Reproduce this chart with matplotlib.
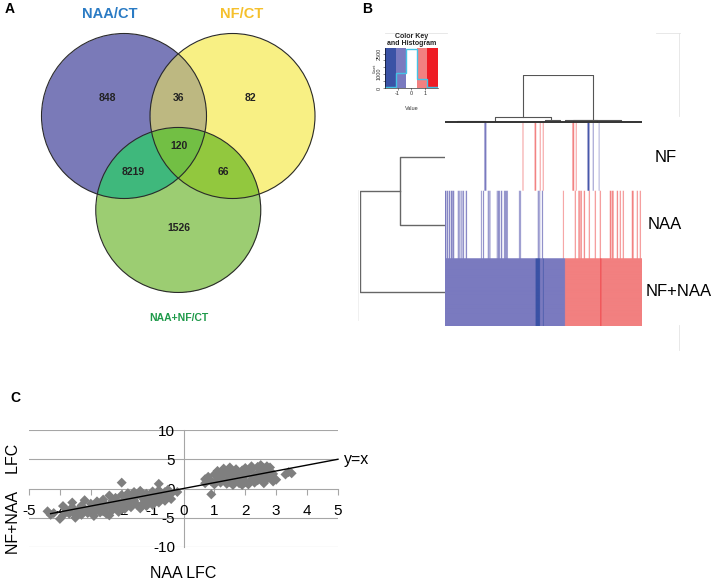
import numpy as np
import matplotlib
matplotlib.use("Agg")
import matplotlib.pyplot as plt
from matplotlib.colors import ListedColormap, BoundaryNorm, to_rgb
from matplotlib.patches import Circle
from matplotlib.lines import Line2D

plt.rcParams['font.family'] = ['Liberation Sans', 'DejaVu Sans']
plt.rcParams['axes.unicode_minus'] = False

W, H = 714, 581

# ---------------- data ----------------
# Venn (A)
venn_sets = ["NAA/CT", "NF/CT", "NAA+NF/CT"]
venn_set_colors = ["#2b7bc4", "#f5c02c", "#1f9a4a"]
venn_regions = ["100", "110", "010", "111", "101", "011", "001"]
venn_counts = [848, 36, 82, 120, 8219, 66, 1526]
venn_region_colors = ["#7a7ab9", "#bdb981", "#f8f084", "#72bf44",
                      "#3fb97c", "#92c83e", "#9ccd72"]

# heatmap (B): stripes as (first gene, number of genes, log fold change)
heat_rows = ["NF", "NAA", "NF+NAA"]
n_genes = 985
nf_stripes = [(197, 10, -0.75), (388, 4, 0.75), (448, 8, 0.75), (474, 4, 0.75),
              (489, 4, 0.75), (637, 9, 0.75), (654, 4, 0.75), (712, 11, -0.75),
              (715, 5, -1.5), (739, 4, -0.75), (769, 3, -0.75)]
naa_stripes = [(0, 7, -0.75), (10, 6, -0.75), (20, 6, -0.75), (30, 8, -0.75),
               (40, 6, -0.75), (64, 5, -0.75), (72, 5, -0.75), (82, 5, -0.75),
               (90, 5, -0.75), (104, 6, -0.75), (180, 4, -0.75), (190, 5, -0.75),
               (214, 5, -0.75), (222, 5, -0.75), (259, 4, -0.75), (265, 5, -0.75),
               (271, 4, -0.75), (280, 6, -0.75), (295, 4, -0.75), (300, 4, -0.75),
               (305, 4, -0.75), (310, 4, -0.75), (370, 4, -0.75), (376, 4, -0.75),
               (464, 5, -0.75), (472, 4, -0.75), (485, 5, -0.75),
               (590, 4, 0.75), (649, 5, 0.75), (667, 7, 0.75), (677, 7, 0.75),
               (694, 6, 0.75), (719, 5, 0.75), (749, 5, 0.75), (774, 5, 0.75),
               (824, 8, 0.75), (835, 8, 0.75), (859, 6, 0.75), (874, 5, 0.75),
               (889, 5, 0.75), (934, 9, 0.75), (959, 5, 0.75), (974, 5, 0.75)]
nfnaa_stripes = [(0, 600, -0.75), (453, 22, -1.5), (490, 3, -1.5),
                 (600, 385, 0.75), (778, 3, 1.5)]

key_bounds = [-1.9, -1.14, -0.38, 0.38, 1.14, 1.9]
key_colors = ["#3a52a5", "#7a7abf", "#ffffff", "#f28080", "#ee1c24"]
key_counts = [50, 1100, 2800, 650, 50]

# dendrograms: (left pos, right pos, left height, right height, top height)
col_links = [(390, 740, 0.10, 0.04, 1.0), (250, 530, 0.02, 0.03, 0.10),
             (500, 575, 0.01, 0.01, 0.035), (600, 880, 0.01, 0.01, 0.04),
             (60, 200, 0.0, 0.0, 0.02), (640, 760, 0.0, 0.0, 0.025)]
row_links = [(0.5, 1.5, 0.0, 0.0, 0.53), (1.0, 2.5, 0.53, 0.0, 1.0)]

# scatter (C)
naa_lfc = [-4.4, -4.2, -4.0, -3.9, -3.8, -3.7, -3.6, -3.6, -3.5, -3.4,
           -3.3, -3.3, -3.2, -3.1, -3.0, -3.0, -2.9, -2.9, -2.8, -2.8,
           -2.7, -2.7, -2.6, -2.6, -2.5, -2.5, -2.4, -2.4, -2.3, -2.3,
           -2.2, -2.2, -2.1, -2.1, -2.0, -2.0, -2.0, -1.9, -1.9, -1.8,
           -1.8, -1.7, -1.7, -1.6, -1.6, -1.5, -1.5, -1.4, -1.4, -1.3,
           -1.3, -1.2, -1.2, -1.1, -1.1, -1.0, -1.0, -0.9, -0.9, -0.8,
           -0.8, -0.8, -0.7, -0.7, -0.6, -0.6, -0.5, -0.5, -0.4, -0.4,
           -0.2, -4.3, -3.9, -3.5, -3.2, -2.6, -2.4,
           -3.7, -3.4, -3.1, -2.8, -2.5, -2.2, -1.9, -1.6, -1.3, -1.0,
           0.7, 0.7, 0.8, 0.9, 0.9, 1.0, 1.0, 1.1, 1.1, 1.2,
           1.2, 1.3, 1.3, 1.4, 1.4, 1.5, 1.5, 1.5, 1.6, 1.6,
           1.7, 1.7, 1.7, 1.8, 1.8, 1.9, 1.9, 2.0, 2.0, 2.0,
           2.1, 2.1, 2.2, 2.2, 2.3, 2.3, 2.4, 2.4, 2.4, 2.5,
           2.5, 2.5, 2.6, 2.6, 2.7, 2.7, 2.7, 2.8, 2.8, 2.8,
           2.9, 2.9, 3.0, 2.6, 2.2, 1.9, 1.3, 3.3, 3.4, 3.5, 0.8]
nfnaa_lfc = [-3.9, -4.2, -5.2, -4.6, -3.6, -4.3, -2.4, -3.2, -5.0, -3.9,
             -4.5, -2.9, -3.5, -4.2, -2.6, -3.3, -4.7, -3.9, -2.2, -3.0,
             -4.1, -3.5, -2.6, -1.9, -3.2, -4.3, -1.2, -2.8, -3.7, -2.1,
             -1.6, -3.1, -2.4, -4.0, 1.0, -1.1, -2.9, -3.5, -1.9, -0.8,
             -2.5, -3.2, -1.4, -2.1, -0.6, -2.8, -1.2, -0.4, -3.4, -1.8,
             -2.5, -0.9, -3.0, -1.5, -2.2, -0.5, -2.8, -1.2, -1.9, 0.8,
             -0.3, -2.4, -1.0, -1.7, -0.6, -2.1, -1.3, -0.2, -1.8, -0.9,
             -0.6, -4.5, -3.0, -4.4, -2.0, -3.9, -4.6,
             -3.9, -3.6, -3.8, -3.4, -2.9, -2.7, -2.4, -1.5, -1.1, -1.8,
             1.6, 0.9, 2.0, 1.2, -1.0, 2.4, 0.7, 1.6, 3.0, 2.1,
             1.0, 3.4, 1.5, 2.6, 0.8, 3.6, 1.9, 1.1, 2.9, 0.6,
             3.3, 2.2, 1.4, 0.9, 2.7, 3.1, 1.7, 2.3, 1.1, 3.5,
             2.8, 0.7, 1.6, 3.2, 2.1, 1.0, 3.7, 2.6, 1.4, 4.0,
             3.0, 1.9, 0.9, 2.4, 3.8, 3.2, 1.6, 2.8, 2.0, 3.6,
             1.2, 2.5, 1.5, 3.5, 3.8, 0.6, 2.7, 2.4, 2.8, 2.6, 1.4]


def px_axes(fig, x0, y0, x1, y1):
    return fig.add_axes([x0 / W, 1 - y1 / H, (x1 - x0) / W, (y1 - y0) / H])


def ftext(fig, x, y, s, **kw):
    fig.text(x / W, 1 - y / H, s, **kw)


def fline(fig, xs, ys, **kw):
    fig.add_artist(Line2D([x / W for x in xs], [1 - y / H for y in ys],
                          transform=fig.transFigure, **kw))


fig = plt.figure(figsize=(W / 100, H / 100), dpi=100)

# ---------------- A: Venn ----------------
ax_a = px_axes(fig, 0, 0, 360, 340)
ax_a.set_xlim(0, 360)
ax_a.set_ylim(340, 0)
ax_a.axis("off")

r = 82.5
mid_x, top_y, d = 178.25, 116, 108.5
centers = [(mid_x - d / 2, top_y), (mid_x + d / 2, top_y),
           (mid_x, top_y + d * np.sqrt(3) / 2)]
gx, gy = np.meshgrid(np.arange(0, 360, 0.5), np.arange(0, 340, 0.5))
inside = [(gx - cx) ** 2 + (gy - cy) ** 2 <= r ** 2 for cx, cy in centers]
img = np.ones(gx.shape + (3,))
for code, col in zip(venn_regions, venn_region_colors):
    m = np.ones(gx.shape, bool)
    for k, ch in enumerate(code):
        m &= inside[k] if ch == "1" else ~inside[k]
    img[m] = to_rgb(col)
ax_a.imshow(img, extent=(0, 360, 340, 0), interpolation="antialiased")
for cx, cy in centers:
    ax_a.add_patch(Circle((cx, cy), r, fill=False, ec="#2a2a2a", lw=0.8))

count_pos = [(107, 98), (179, 98), (250, 98), (179, 146), (133, 172),
             (223, 172), (179, 228)]
for (x, y), n in zip(count_pos, venn_counts):
    ax_a.text(x, y, str(n), ha="center", va="center", fontsize=7.5,
              fontweight="bold", color="#222222")
set_pos = [(110, 14, 10.5), (242, 14, 10.5), (179, 318, 7.5)]
for (x, y, fs), name, col in zip(set_pos, venn_sets, venn_set_colors):
    ax_a.text(x, y, name, ha="center", va="center", fontsize=fs,
              fontweight="bold", color=col)

# ---------------- B: heatmap ----------------
cmap = ListedColormap(key_colors)
norm = BoundaryNorm(key_bounds, cmap.N)

heat = np.zeros((3, n_genes))
for row, stripes in enumerate([nf_stripes, naa_stripes, nfnaa_stripes]):
    for start, n, v in stripes:
        heat[row, start:start + n] = v

ax_h = px_axes(fig, 445, 123, 642, 326)
ax_h.imshow(np.repeat(heat, 68, axis=0), aspect="auto", cmap=cmap, norm=norm,
            extent=(0, n_genes, 3, 0), interpolation="antialiased",
            interpolation_stage="rgba")
ax_h.axis("off")
label_x = [655, 648, 646]
for i, (name, lx) in enumerate(zip(heat_rows, label_x)):
    ftext(fig, lx, 157 + i * 67.5, name, ha="left", va="center", fontsize=12)

ax_cd = px_axes(fig, 445, 75, 642, 123)
for xl, xr, hl, hr, ht in col_links:
    ax_cd.plot([xl, xl, xr, xr], [hl, ht, ht, hr], color="#555555", lw=0.8)
ax_cd.plot([0, n_genes], [0.0, 0.0], color="#333333", lw=1.4)
ax_cd.plot([0, n_genes], [-0.02, -0.02], color="#999999", lw=0.6)
ax_cd.set_xlim(0, n_genes)
ax_cd.set_ylim(-0.03, 1.0)
ax_cd.axis("off")

ax_rd = px_axes(fig, 360, 123, 445, 326)
for yl, yr, hl, hr, ht in row_links:
    ax_rd.plot([hl, ht, ht, hr], [yl, yl, yr, yr], color="#666666", lw=1.0)
ax_rd.set_xlim(1.0, 0)
ax_rd.set_ylim(3, 0)
ax_rd.axis("off")

# colour key
ax_k = px_axes(fig, 385, 48, 438, 88)
mids = [(a + b) / 2 for a, b in zip(key_bounds[:-1], key_bounds[1:])]
ax_k.imshow([mids], aspect="auto", cmap=cmap, norm=norm,
            extent=(key_bounds[0], key_bounds[-1], 0, 2900))
ax_k.stairs(key_counts, key_bounds, color="#45c3e6", lw=1.0)
ax_k.set_xlim(key_bounds[0], key_bounds[-1])
ax_k.set_ylim(0, 2900)
ax_k.set_xticks([-1, 0, 1])
ax_k.set_yticks([0, 500, 1000, 1500, 2000, 2500])
ax_k.set_yticklabels(["0", "", "1000", "", "", "2500"], rotation=90, va="center")
ax_k.tick_params(labelsize=4, length=1.5, width=0.4, pad=1, colors="#333333")
for s in ["top", "right"]:
    ax_k.spines[s].set_visible(False)
for s in ["left", "bottom"]:
    ax_k.spines[s].set_linewidth(0.4)
ftext(fig, 412, 40, "Color Key\nand Histogram", ha="center", va="center",
      fontsize=5, fontweight="bold", linespacing=0.9, color="#222222")
ftext(fig, 412, 108, "Value", ha="center", va="center", fontsize=4, color="#333333")
ftext(fig, 375, 68, "Count", ha="center", va="center", fontsize=2.5,
      rotation=90, color="#333333")

# faint frame lines
frame = "#e4e4e4"
fline(fig, [385, 447], [33, 33], color=frame, lw=0.6)
fline(fig, [656, 680], [33, 33], color=frame, lw=0.6)
fline(fig, [679, 679], [33, 116], color=frame, lw=0.6)
fline(fig, [679, 679], [325, 350], color=frame, lw=0.6)
fline(fig, [358, 358], [190, 320], color="#eeeeee", lw=0.6)

# ---------------- C: scatter ----------------
grid_c = "#a6a6a6"
ax_c = px_axes(fig, 29, 430, 338, 547)
ax_c.set_xlim(-5, 5)
ax_c.set_ylim(-10, 10)
for yv in [-10, -5, 5, 10]:
    ax_c.axhline(yv, color=grid_c, lw=0.8, zorder=0)
ax_c.scatter(naa_lfc, nfnaa_lfc, marker="D", s=26, color="#7f7f7f",
             edgecolors="none", zorder=2)
ax_c.plot([-4.3, 5], [-4.3, 5], color="black", lw=1.0, zorder=3, clip_on=False)
ax_c.text(5.2, 5, "y=x", ha="left", va="center", fontsize=11.5)
ax_c.spines["top"].set_visible(False)
ax_c.spines["right"].set_visible(False)
ax_c.spines["bottom"].set_position(("data", 0))
ax_c.spines["left"].set_position(("data", 0))
for s in ["bottom", "left"]:
    ax_c.spines[s].set_color(grid_c)
    ax_c.spines[s].set_linewidth(0.8)
    ax_c.spines[s].set_zorder(1)
ax_c.set_xticks(range(-5, 6))
ax_c.set_yticks([-10, -5, 0, 5, 10])
ax_c.tick_params(axis="x", direction="out", length=4, color=grid_c, pad=7,
                 labelsize=11)
ax_c.tick_params(axis="y", length=0, pad=6, labelsize=11)
ax_c.patch.set_alpha(0)
ftext(fig, 183, 573, "NAA LFC", ha="center", va="center", fontsize=11.5)
ftext(fig, 14, 499, "NF+NAA    LFC", ha="center", va="center", fontsize=11.5,
      rotation=90)

# panel letters
ftext(fig, 10, 9, "A", ha="center", va="center", fontsize=10, fontweight="bold")
ftext(fig, 367, 9, "B", ha="center", va="center", fontsize=10, fontweight="bold")
ftext(fig, 15, 398, "C", ha="center", va="center", fontsize=10, fontweight="bold")

fig.savefig("out.png", dpi=100)
